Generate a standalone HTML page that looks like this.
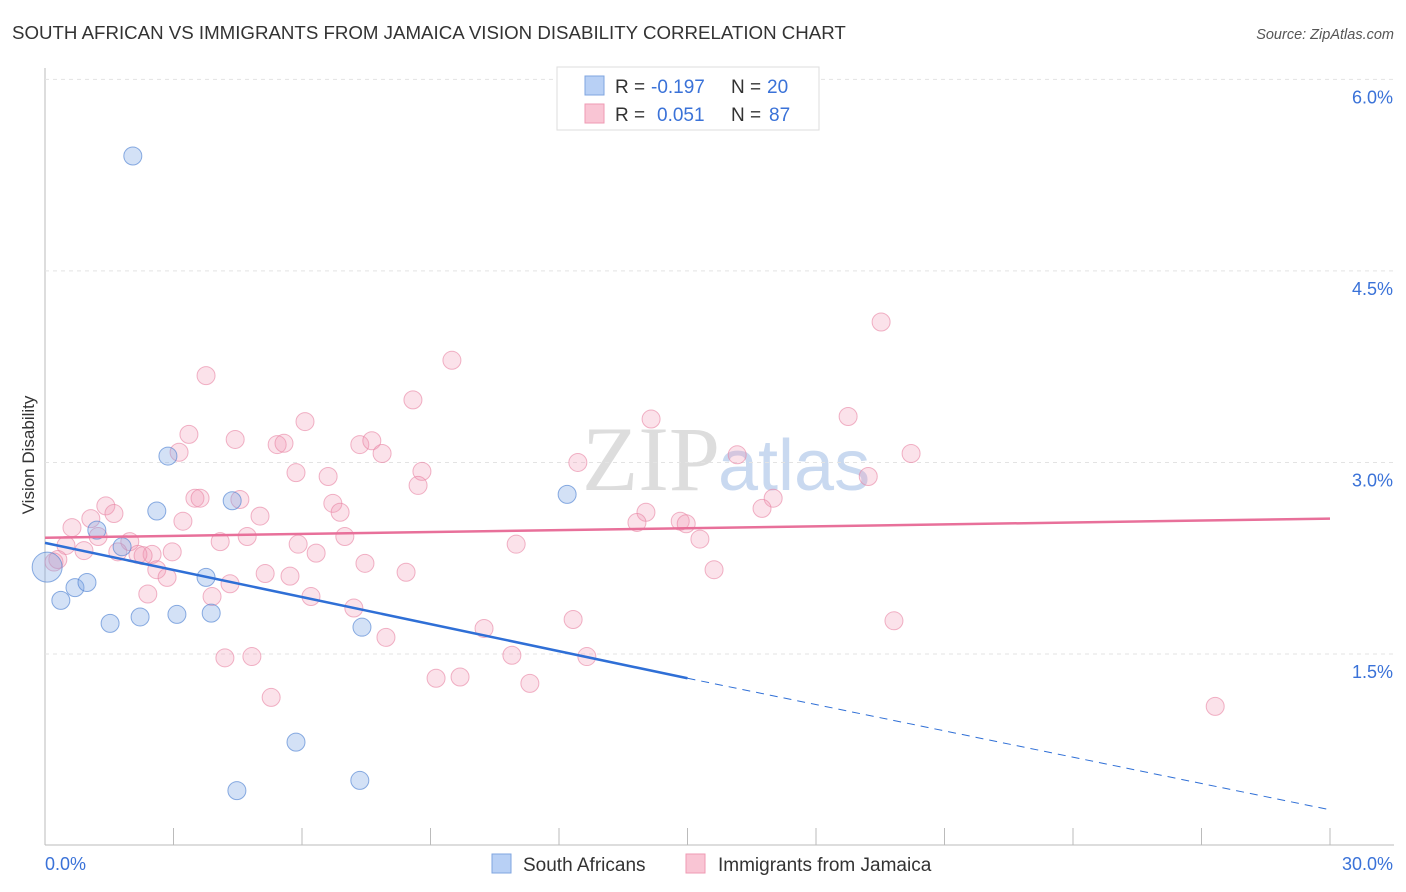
<!DOCTYPE html>
<html><head><meta charset="utf-8"><style>
body{margin:0;background:#fff;font-family:"Liberation Sans",sans-serif}
svg{display:block}
</style></head><body>
<svg id="c" width="1406" height="892" xmlns="http://www.w3.org/2000/svg">
<text x="12" y="39" font-size="18.7" fill="#333">SOUTH AFRICAN VS IMMIGRANTS FROM JAMAICA VISION DISABILITY CORRELATION CHART</text>
<text x="1394" y="39" font-size="14.5" fill="#555" font-style="italic" text-anchor="end">Source: ZipAtlas.com</text>
<text x="720" y="490" font-size="92" fill="#ddd" text-anchor="end" font-family="Liberation Serif,serif">ZIP</text>
<text x="718" y="490" font-size="72" fill="#c9d9f0">atlas</text>
<g id="grid"></g><g id="marks"></g><g id="lines"></g>
<text x="34" y="455" font-size="17" fill="#333" transform="rotate(-90 34 455)" text-anchor="middle">Vision Disability</text>
<g>
<rect x="557" y="67" width="262" height="63" fill="#fff" stroke="#ddd"/>
<rect x="585" y="76" width="19" height="19" fill="#b8d0f5" stroke="#7fa6e0"/>
<rect x="585" y="104" width="19" height="19" fill="#f9c5d4" stroke="#ef9ab3"/>
<text x="615" y="93" font-size="19" fill="#333">R =</text>
<text x="651" y="93" font-size="19" fill="#3a72d8">-0.197</text>
<text x="731" y="93" font-size="19" fill="#333">N =</text>
<text x="767" y="93" font-size="19" fill="#3a72d8">20</text>
<text x="615" y="121" font-size="19" fill="#333">R =</text>
<text x="657" y="121" font-size="19" fill="#3a72d8">0.051</text>
<text x="731" y="121" font-size="19" fill="#333">N =</text>
<text x="769" y="121" font-size="19" fill="#3a72d8">87</text>
</g>
<g>
<rect x="492" y="854" width="19" height="19" fill="#b8d0f5" stroke="#7fa6e0"/>
<text x="523" y="871" font-size="19" fill="#333">South Africans</text>
<rect x="686" y="854" width="19" height="19" fill="#f9c5d4" stroke="#ef9ab3"/>
<text x="718" y="871" font-size="19" fill="#333">Immigrants from Jamaica</text>
</g>
</svg>
<script>
const xTicks=[0,3,6,9,12,15,18,21,24,27,30];
const yTicks=[1.5,3.0,4.5,6.0];
const yTickLabels=["1.5%","3.0%","4.5%","6.0%"];
const xTickLabels=["0.0%","30.0%"];
const blueX=[2.05,2.87,2.61,4.37,1.21,1.80,0.05,0.37,0.70,0.98,1.52,2.22,3.08,3.76,3.88,7.40,5.86,4.48,7.35,12.19];
const blueY=[5.40,3.05,2.62,2.70,2.47,2.34,2.18,1.92,2.02,2.06,1.74,1.79,1.81,2.10,1.82,1.71,0.81,0.43,0.51,2.75];
const pinkX=[19.52,9.50,3.76,8.59,6.07,14.15,18.75,3.36,4.44,5.42,5.58,7.35,7.63,7.87,3.13,16.16,20.22,12.44,5.86,8.80,6.61,8.71,19.22,3.50,3.62,4.55,6.72,1.42,17.0,6.89,16.74,14.03,1.61,5.02,3.22,1.07,13.82,14.83,14.97,0.63,1.24,7.0,4.72,15.29,4.09,1.98,11.0,5.91,0.49,0.91,1.70,2.50,2.97,6.33,2.17,2.29,0.30,0.21,2.61,7.47,2.85,5.14,8.43,5.72,15.62,4.32,2.40,3.90,6.21,7.21,12.33,19.82,10.25,7.96,10.9,12.65,4.20,4.83,9.13,9.69,11.32,5.28,27.32];
const pinkY=[4.10,3.80,3.68,3.49,3.32,3.34,3.36,3.22,3.18,3.14,3.15,3.14,3.17,3.07,3.08,3.06,3.07,3.00,2.92,2.93,2.89,2.82,2.89,2.72,2.72,2.71,2.68,2.66,2.72,2.61,2.64,2.61,2.60,2.58,2.54,2.56,2.53,2.54,2.52,2.49,2.42,2.42,2.42,2.40,2.38,2.38,2.36,2.36,2.35,2.31,2.30,2.28,2.30,2.29,2.28,2.27,2.24,2.22,2.16,2.21,2.10,2.13,2.14,2.11,2.16,2.05,1.97,1.95,1.95,1.86,1.77,1.76,1.70,1.63,1.49,1.48,1.47,1.48,1.31,1.32,1.27,1.16,1.09];
const blueTrend=[2.37,1.31,0.28];
const pinkTrend=[2.41,2.56];
const NS="http://www.w3.org/2000/svg";
const X=v=>45+v*(1285/30);
const Y=v=>654-(v-1.5)*127.7;
function mk(tag,parent,attrs){const e=document.createElementNS(NS,tag);for(const k in attrs)e.setAttribute(k,attrs[k]);document.getElementById(parent).appendChild(e);return e;}
let a=mk('line','grid',{x1:45,y1:68,x2:45,y2:845,stroke:'#bbb'});


a=mk('line','grid',{x1:45,y1:845,x2:1394,y2:845,stroke:'#bbb'});


yTicks.forEach((t,i)=>{
 const g=mk('line','grid',{x1:45,y1:Y(t),x2:1394,y2:Y(t),stroke:'#e3e3e3','stroke-dasharray':'4,4'});
 
 
 const l=mk('text','grid',{x:1393,y:Y(t)+24,'font-size':18,fill:'#3a72d8','text-anchor':'end'});
 l.textContent=yTickLabels[i];
 
 
});
xTicks.forEach(t=>{
 const g=mk('line','grid',{x1:X(t),y1:828,x2:X(t),y2:845,stroke:'#bbb'});
 
 
});
[[0,45,'start'],[30,1393,'end']].forEach((p,i)=>{
 const l=mk('text','grid',{x:p[1],y:870,'font-size':18,fill:'#3a72d8','text-anchor':p[2]});
 l.textContent=xTickLabels[i];
 
 
});
pinkX.forEach((x,i)=>{
 const c=mk('circle','marks',{cx:X(x),cy:Y(pinkY[i]),r:9,fill:'rgba(242,150,178,0.28)',stroke:'rgba(232,130,162,0.6)','stroke-width':1});
 
 
});
blueX.forEach((x,i)=>{
 const c=mk('circle','marks',{cx:X(x),cy:Y(blueY[i]),r:i===6?15:9,fill:'rgba(130,170,230,0.35)',stroke:'rgba(80,130,210,0.65)','stroke-width':1});
 
 
});
let t=mk('line','lines',{x1:X(0),y1:Y(pinkTrend[0]),x2:X(30),y2:Y(pinkTrend[1]),stroke:'#e8709a','stroke-width':2.5});


t=mk('line','lines',{x1:X(0),y1:Y(blueTrend[0]),x2:X(15),y2:Y(blueTrend[1]),stroke:'#2f6fd6','stroke-width':2.5});


t=mk('line','lines',{x1:X(15),y1:Y(blueTrend[1]),x2:X(30),y2:Y(blueTrend[2]),stroke:'#2f6fd6','stroke-width':1,'stroke-dasharray':'8,6'});


</script>
</body></html>
